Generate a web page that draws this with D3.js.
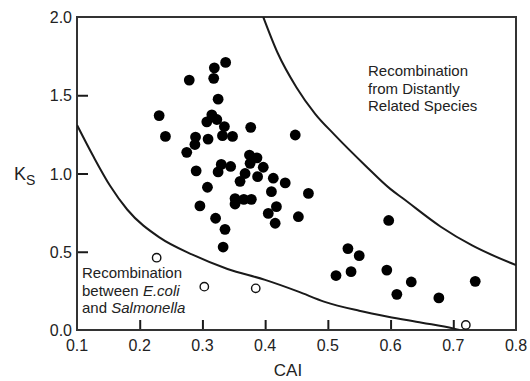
<!DOCTYPE html>
<html>
<head>
<meta charset="utf-8">
<script src="https://cdn.jsdelivr.net/npm/d3@7"></script>
<style>
  html, body { margin: 0; padding: 0; background: #fff; }
  svg { display: block; font-family: "Liberation Sans", Arial, Helvetica, sans-serif; }
</style>
</head>
<body>
<svg id="chart" width="530" height="381"></svg>
<script>
// ---- data (CAI, Ks) ----
const filledPoints = [
  [0.337,1.71],[0.319,1.675],[0.279,1.597],[0.318,1.608],[0.325,1.475],[0.231,1.37],
  [0.307,1.33],[0.315,1.375],[0.323,1.345],[0.335,1.30],[0.377,1.295],[0.241,1.237],
  [0.289,1.233],[0.309,1.22],[0.332,1.242],[0.348,1.237],[0.288,1.185],[0.275,1.135],
  [0.448,1.246],
  [0.29,1.017],[0.308,0.912],[0.296,0.793],[0.325,1.01],[0.33,1.058],[0.345,1.045],
  [0.36,0.95],[0.352,0.84],[0.352,0.805],[0.366,0.835],[0.378,0.835],[0.375,1.118],
  [0.376,1.065],[0.387,1.10],[0.397,1.04],[0.368,1.0],[0.388,0.98],[0.413,0.97],
  [0.432,0.94],[0.41,0.884],[0.469,0.873],[0.418,0.788],[0.405,0.745],[0.453,0.724],
  [0.416,0.682],[0.321,0.714],[0.336,0.643],[0.333,0.53],
  [0.597,0.70],[0.532,0.52],[0.55,0.475],[0.513,0.348],[0.537,0.373],[0.594,0.383],
  [0.633,0.307],[0.61,0.228],[0.677,0.205],[0.735,0.311]
];
const openPoints = [[0.227,0.462],[0.303,0.277],[0.385,0.266],[0.72,0.032]];
const upperBoundary = [
  [0.397,2.0],[0.42,1.77],[0.45,1.55],[0.48,1.38],[0.51,1.25],[0.56,1.05],
  [0.60,0.90],[0.62,0.84],[0.68,0.66],[0.73,0.54],[0.80,0.415]
];
const lowerBoundary = [
  [0.1,1.31],[0.126,1.11],[0.153,0.92],[0.18,0.77],[0.232,0.59],[0.285,0.48],
  [0.34,0.39],[0.40,0.32],[0.453,0.245],[0.495,0.18],[0.55,0.123],[0.596,0.085],
  [0.65,0.047],[0.70,0.01],[0.71,0.0]
];
const xTicks = [0.1,0.2,0.3,0.4,0.5,0.6,0.7,0.8];
const yTicks = [0.0,0.5,1.0,1.5,2.0];
const labelDistant = ["Recombination","from Distantly","Related Species"];

// ---- layout ----
const svg = d3.select("#chart");
const x = d3.scaleLinear().domain([0.1,0.8]).range([77,516]);
const y = d3.scaleLinear().domain([0,2]).range([330,17]);
const ink = "#1a1a1a";

svg.append("defs").append("clipPath").attr("id","plotclip")
  .append("rect").attr("x",x(0.1)).attr("y",y(2)).attr("width",x(0.8)-x(0.1)).attr("height",y(0)-y(2));

// axes with inward ticks
const xAxis = svg.append("g").attr("transform",`translate(0,${y(0)})`)
  .call(d3.axisTop(x).tickValues(xTicks.slice(1,-1)).tickSize(10).tickFormat(""));
xAxis.select(".domain").remove();
xAxis.selectAll("line").attr("stroke",ink).attr("stroke-width",2);

const yAxis = svg.append("g").attr("transform",`translate(${x(0.1)},0)`)
  .call(d3.axisRight(y).tickValues(yTicks.slice(1,-1)).tickSize(11).tickFormat(""));
yAxis.select(".domain").remove();
yAxis.selectAll("line").attr("stroke",ink).attr("stroke-width",2);

// tick labels
svg.append("g").selectAll("text").data(xTicks).join("text")
  .attr("x",d=>x(d)).attr("y",351).attr("text-anchor","middle")
  .attr("font-size",16).attr("fill","#222").text(d=>d3.format(".1f")(d));
svg.append("g").selectAll("text").data(yTicks).join("text")
  .attr("x",72).attr("y",d=>y(d)+6).attr("text-anchor","end")
  .attr("font-size",16).attr("fill","#222").text(d=>d3.format(".1f")(d));

// frame
svg.append("rect").attr("x",x(0.1)).attr("y",y(2))
  .attr("width",x(0.8)-x(0.1)).attr("height",y(0)-y(2))
  .attr("fill","none").attr("stroke","#333").attr("stroke-width",2);

// boundary curves
const line = d3.line().x(d=>x(d[0])).y(d=>y(d[1])).curve(d3.curveMonotoneX);
const curves = svg.append("g").attr("clip-path","url(#plotclip)");
curves.append("path").datum(upperBoundary).attr("d",line)
  .attr("fill","none").attr("stroke",ink).attr("stroke-width",2);
curves.append("path").datum(lowerBoundary).attr("d",line)
  .attr("fill","none").attr("stroke",ink).attr("stroke-width",2);

// points
svg.append("g").selectAll("circle").data(filledPoints).join("circle")
  .attr("cx",d=>x(d[0])).attr("cy",d=>y(d[1])).attr("r",5.4).attr("fill","#000");
svg.append("g").selectAll("circle").data(openPoints).join("circle")
  .attr("cx",d=>x(d[0])).attr("cy",d=>y(d[1])).attr("r",4.2)
  .attr("fill","#fff").attr("stroke","#111").attr("stroke-width",1.4);

// annotations
const t1 = svg.append("text").attr("font-size",15).attr("fill","#222");
labelDistant.forEach((s,i)=>{
  t1.append("tspan").attr("x",368).attr("y",76+i*17.5).text(s);
});
const t2 = svg.append("text").attr("font-size",15).attr("fill","#222");
t2.append("tspan").attr("x",82).attr("y",278).text("Recombination");
const l2 = t2.append("tspan").attr("x",82).attr("y",295.7);
l2.append("tspan").text("between ");
l2.append("tspan").attr("font-style","italic").text("E.coli");
const l3 = t2.append("tspan").attr("x",82).attr("y",313.4);
l3.append("tspan").text("and ");
l3.append("tspan").attr("font-style","italic").text("Salmonella");

// axis titles
svg.append("text").attr("x",288).attr("y",376).attr("text-anchor","middle")
  .attr("font-size",17).attr("fill","#222").text("CAI");
const ks = svg.append("text").attr("x",14).attr("y",180).attr("font-size",18).attr("fill","#222");
ks.append("tspan").text("K");
ks.append("tspan").attr("font-size",14).attr("dy",5).text("S");
</script>
</body>
</html>
